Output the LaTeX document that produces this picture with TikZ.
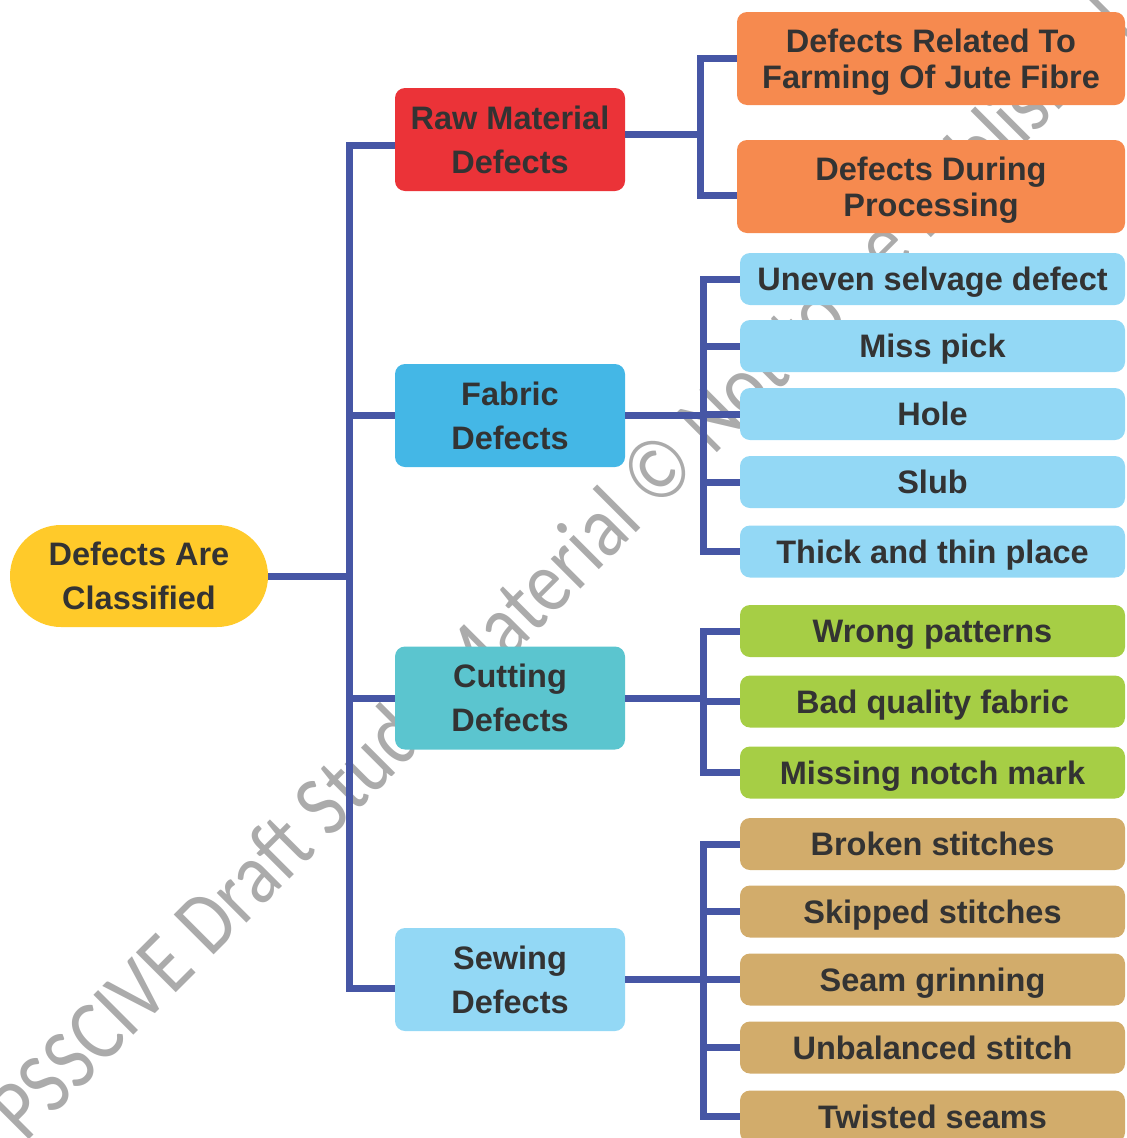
\documentclass[tikz,border=0pt]{standalone}
\usepackage{fontspec}
\setmainfont{Liberation Sans}
\newfontfamily\markfont{Carlito}

\definecolor{linkblue}{HTML}{4656A5}
\definecolor{txtgray}{HTML}{333333}
\definecolor{rootyellow}{HTML}{FFCA2A}
\definecolor{rawred}{HTML}{EB3338}
\definecolor{rawsub}{HTML}{F68A4F}
\definecolor{fabblue}{HTML}{44B7E6}
\definecolor{paleblue}{HTML}{93D8F5}
\definecolor{cutteal}{HTML}{5BC5CF}
\definecolor{cutgreen}{HTML}{A6CE45}
\definecolor{sewtan}{HTML}{D2AC6B}
\definecolor{markgray}{HTML}{ABABAB}

\begin{document}
\begin{tikzpicture}[x=1pt,y=-1pt,
  box/.style={rounded corners=10pt, inner sep=0pt, align=center,
    font=\bfseries\fontsize{32.5}{44}\selectfont, text=txtgray},
  oneline/.style={text height=23pt, text depth=0pt},
  twoline/.style={text height=67pt, text depth=0pt},
  cat/.style={box, twoline, minimum width=230pt, minimum height=103pt},
  leaf/.style={box, oneline, minimum width=385pt, minimum height=52pt},
  tall/.style={box, text height=59pt, text depth=0pt,
    font=\bfseries\fontsize{32.5}{36}\selectfont,
    minimum width=388pt, minimum height=93pt},
  link/.style={draw=linkblue, line width=7pt},
  wmark/.style={font=\markfont\fontsize{88}{88}\selectfont, text=markgray, inner sep=0pt}]

\useasboundingbox (0,0) rectangle (1127,1138);
\clip (0,0) rectangle (1127,1138);

% watermark behind the chart
\node[wmark, rotate=45] (mark) at (565,571)
  {\scalebox{0.85}[1]{PSSCIVE Draft Study Material © Not to be Published}};

% root
\node[box, twoline, rounded corners=51pt, fill=rootyellow,
  minimum width=258pt, minimum height=102pt] (root) at (139,576)
  {Defects Are\\Classified};

% categories
\node[cat, fill=rawred]   (raw)    at (510,139.5) {Raw Material\\Defects};
\node[cat, fill=fabblue]  (fabric) at (510,415.5) {Fabric\\Defects};
\node[cat, fill=cutteal]  (cut)    at (510,698)   {Cutting\\Defects};
\node[cat, fill=paleblue] (sew)    at (510,979.5) {Sewing\\Defects};

% raw material leaves
\node[tall, fill=rawsub] (o1) at (931,58.5)  {Defects Related To\\Farming Of Jute Fibre};
\node[tall, fill=rawsub] (o2) at (931,186.5) {Defects During\\Processing};

% fabric leaves
\node[leaf, fill=paleblue] (f1) at (932.5,279)   {Uneven selvage defect};
\node[leaf, fill=paleblue] (f2) at (932.5,346)   {Miss pick};
\node[leaf, fill=paleblue] (f3) at (932.5,414)   {Hole};
\node[leaf, fill=paleblue] (f4) at (932.5,482)   {Slub};
\node[leaf, fill=paleblue] (f5) at (932.5,551.5) {Thick and thin place};

% cutting leaves
\node[leaf, fill=cutgreen] (c1) at (932.5,631)   {Wrong patterns};
\node[leaf, fill=cutgreen] (c2) at (932.5,701.5) {Bad quality fabric};
\node[leaf, fill=cutgreen] (c3) at (932.5,772.5) {Missing notch mark};

% sewing leaves
\node[leaf, fill=sewtan] (s1) at (932.5,844)    {Broken stitches};
\node[leaf, fill=sewtan] (s2) at (932.5,911.5)  {Skipped stitches};
\node[leaf, fill=sewtan] (s3) at (932.5,979.5)  {Seam grinning};
\node[leaf, fill=sewtan] (s4) at (932.5,1047.5) {Unbalanced stitch};
\node[leaf, fill=sewtan] (s5) at (932.5,1116.5) {Twisted seams};

% bus lines
\coordinate (trunk)  at (349,0);
\coordinate (rawbus) at (700,0);
\coordinate (fabbus) at (703,0);
\coordinate (cutbus) at (703,0);
\coordinate (sewbus) at (703,0);

\coordinate (rawin)  at ([yshift=-5.5pt]raw.west);
\coordinate (rawout) at ([yshift=5.5pt]raw.east);
\coordinate (sewin)  at ([yshift=-8.5pt]sew.west);
\coordinate (o2in)   at ([yshift=-8.5pt]o2.west);

% main trunk
\draw[link] (root.east) -- (root.east -| trunk);
\draw[link] (rawin) -- (rawin -| trunk) -- (sewin -| trunk) -- (sewin);
\draw[link] (fabric.west -| trunk) -- (fabric.west);
\draw[link] (cut.west -| trunk) -- (cut.west);

% raw material branch
\draw[link] (rawout) -- (rawout -| rawbus);
\draw[link] (o1.west) -- (o1.west -| rawbus) -- (o2in -| rawbus) -- (o2in);

% fabric branch
\draw[link] (fabric.east) -- (fabric.east -| fabbus);
\draw[link] (f1.west) -- (f1.west -| fabbus) -- (f5.west -| fabbus) -- (f5.west);
\foreach \n in {f2,f3,f4} \draw[link] (\n.west -| fabbus) -- (\n.west);

% cutting branch
\draw[link] (cut.east) -- (cut.east -| cutbus);
\draw[link] (c1.west) -- (c1.west -| cutbus) -- (c3.west -| cutbus) -- (c3.west);
\draw[link] (c2.west -| cutbus) -- (c2.west);

% sewing branch
\draw[link] (sew.east) -- (sew.east -| sewbus);
\draw[link] (s1.west) -- (s1.west -| sewbus) -- (s5.west -| sewbus) -- (s5.west);
\foreach \n in {s2,s3,s4} \draw[link] (\n.west -| sewbus) -- (\n.west);

\end{tikzpicture}
\end{document}
